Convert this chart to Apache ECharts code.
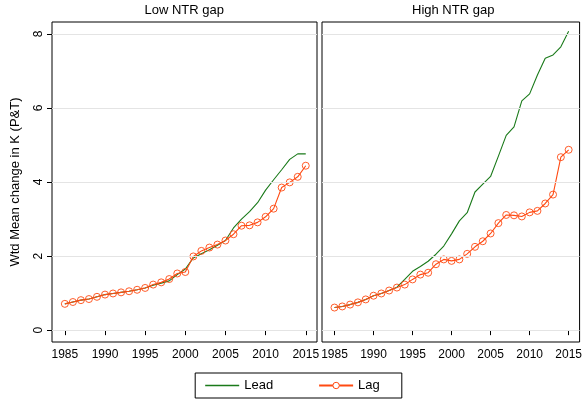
<!DOCTYPE html>
<html><head><meta charset="utf-8">
<script src="https://cdn.jsdelivr.net/npm/echarts@6/dist/echarts.min.js"></script>
<style>html,body{margin:0;background:#fff}#c{width:585px;height:402px}</style>
</head><body><div id="c"></div>
<script>
const years = []
for (let y = 1985; y <= 2015; y++) years.push(y)
const lowLead = [0.71,0.76,0.81,0.84,0.90,0.96,0.99,1.02,1.05,1.09,1.14,1.21,1.27,1.33,1.50,1.65,1.95,2.06,2.17,2.29,2.42,2.76,3.00,3.20,3.44,3.78,4.06,4.33,4.61,4.76,4.76]
const lowLag = [0.71,0.76,0.81,0.84,0.90,0.96,0.99,1.02,1.05,1.09,1.14,1.23,1.29,1.38,1.53,1.57,1.99,2.14,2.23,2.31,2.42,2.59,2.82,2.83,2.91,3.06,3.28,3.85,3.99,4.14,4.44]
const highLead = [0.61,0.64,0.69,0.75,0.83,0.93,0.99,1.07,1.16,1.37,1.59,1.72,1.86,2.05,2.27,2.60,2.95,3.17,3.73,3.94,4.15,4.70,5.26,5.49,6.19,6.38,6.89,7.34,7.43,7.65,8.07]
const highLag = [0.61,0.64,0.69,0.75,0.83,0.93,0.99,1.07,1.15,1.23,1.37,1.50,1.55,1.78,1.91,1.87,1.91,2.06,2.25,2.40,2.61,2.89,3.11,3.10,3.07,3.18,3.22,3.42,3.66,4.67,4.87]
const xTicks = [1985,1990,1995,2000,2005,2010,2015]
const yTicks = [0,2,4,6,8]
const panelTitles = ['Low NTR gap', 'High NTR gap']

const leadColor = '#1a7a1a', lagColor = '#ff4a12'
const font = 'Liberation Sans'
const pair = a => years.map((y, i) => [y, a[i]])
const grids = [
  { left: 52, top: 22, width: 265, height: 320, show: true, borderColor: '#000', borderWidth: 1 },
  { left: 322, top: 22, width: 260, height: 320, show: true, borderColor: '#000', borderWidth: 1 }
]
const xAxis = [0, 1].map(i => ({
  gridIndex: i, type: 'value', min: 1983.4, max: 2016.4,
  axisLine: { show: false },
  axisTick: { show: true, length: 5, customValues: xTicks, lineStyle: { color: '#000' } },
  axisLabel: { customValues: xTicks, formatter: v => String(v), color: '#000', fontSize: 12, fontFamily: font, margin: 7 },
  splitLine: { show: false }
}))
const yAxis = [0, 1].map(i => ({
  gridIndex: i, type: 'value', min: -0.32, max: 8.32,
  name: i === 0 ? 'Wtd Mean change in K (P&T)' : '', nameLocation: 'middle', nameGap: 30,
  nameTextStyle: { color: '#000', fontSize: 13, fontFamily: font },
  axisLine: { show: false },
  axisTick: { show: i === 0, length: 5, customValues: yTicks, lineStyle: { color: '#000' } },
  axisLabel: { show: i === 0, customValues: yTicks, rotate: 90, color: '#000', fontSize: 12, fontFamily: font, margin: 7 },
  splitLine: { show: false }
}))
const gridLines = [0, 1].map(i => ({
  type: 'line', xAxisIndex: i, yAxisIndex: i, data: [], silent: true,
  markLine: { symbol: 'none', silent: true, label: { show: false },
    lineStyle: { color: '#e4e4e4', type: 'solid', width: 1 },
    data: yTicks.map(v => ({ yAxis: v })) }
}))
const mk = (name, data, i, lag) => ({
  name, type: 'line', xAxisIndex: i, yAxisIndex: i, data: pair(data),
  symbol: lag ? 'circle' : 'none', symbolSize: 7, showSymbol: lag,
  lineStyle: { color: lag ? lagColor : leadColor, width: 1.1 },
  itemStyle: lag ? { color: 'rgba(255,255,255,0)', borderColor: lagColor, borderWidth: 0.9 } : { color: leadColor },
  z: lag ? 4 : 3
})
const chart = echarts.init(document.getElementById('c'), null, { renderer: 'canvas' })
chart.setOption({
  animation: false,
  backgroundColor: '#fff',
  grid: grids, xAxis, yAxis,
  graphic: panelTitles.map((t, i) => ({
    type: 'text', left: grids[i].left + grids[i].width / 2 - 40, top: 4,
    style: { text: t, fontSize: 13, fontFamily: font, fill: '#000', width: 80, align: 'center' }
  })),
  legend: {
    bottom: 4, left: 'center', width: 222, itemGap: 45, itemWidth: 34, itemHeight: 8,
    borderColor: '#000', borderWidth: 1, padding: [6, 22, 6, 10],
    textStyle: { color: '#000', fontSize: 13, fontFamily: font },
    data: [{ name: 'Lead', icon: 'path://M0,0H34V1.3H0Z', itemStyle: { color: leadColor } },
           { name: 'Lag', itemStyle: { color: '#fff', borderColor: lagColor, borderWidth: 1 } }]
  },
  series: [
    ...gridLines,
    mk('Lead', lowLead, 0, false), mk('Lag', lowLag, 0, true),
    mk('Lead', highLead, 1, false), mk('Lag', highLag, 1, true)
  ]
})
</script></body></html>
